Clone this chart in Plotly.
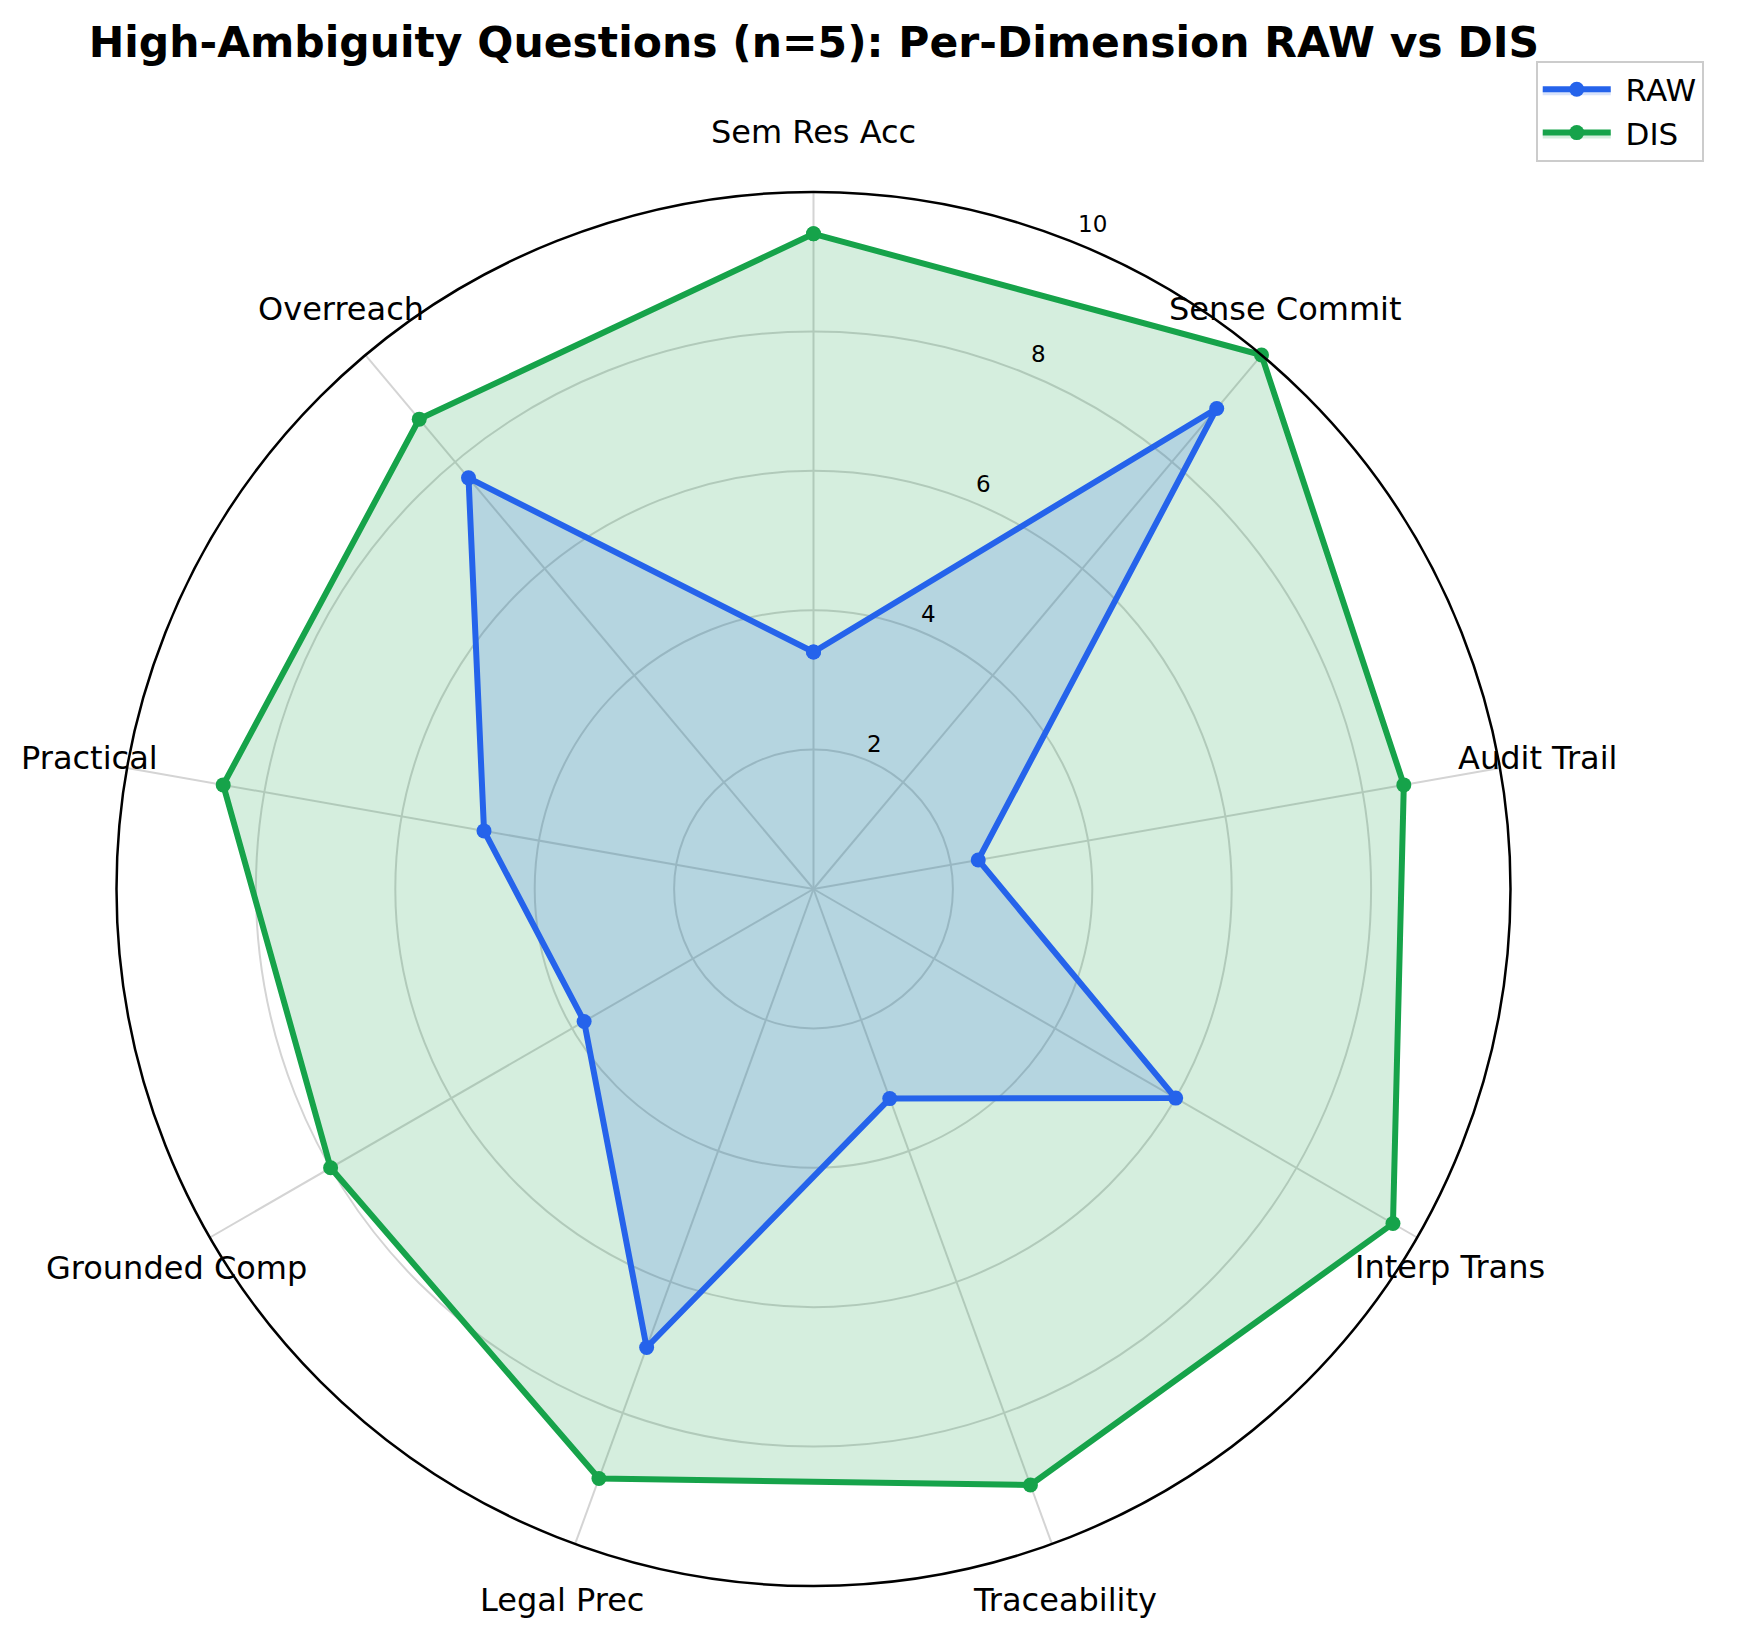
import math
import plotly.graph_objects as go

# per-dimension means for the high-ambiguity subset (n=5)
categories = ["Sem Res Acc", "Sense Commit", "Audit Trail", "Interp Trans", "Traceability",
              "Legal Prec", "Grounded Comp", "Practical", "Overreach"]
raw_scores = [3.4, 9.0, 2.4, 6.0, 3.2, 7.0, 3.8, 4.8, 7.7]
dis_scores = [9.4, 10.0, 8.6, 9.6, 9.1, 9.0, 8.0, 8.6, 8.8]
radial_ticks = [2, 4, 6, 8, 10]

RAW_COLOR = "#2563eb"
DIS_COLOR = "#16a34a"
FONT = "DejaVu Sans"

W, H = 1752, 1645
# polar centre / radius in px (page has an 8px body margin)
CX, CY, R = 805.5, 881.0, 697


def closed(values):
    # repeat first point so the polygon closes
    return list(values) + [values[0]]


fig = go.Figure()

fig.add_trace(go.Scatterpolar(
    r=closed(dis_scores),
    theta=closed(categories),
    name="\u00a0DIS",
    legendrank=2,
    mode="lines+markers",
    line=dict(color=DIS_COLOR, width=6),
    marker=dict(size=15, color=DIS_COLOR),
    fill="toself",
    fillcolor="rgba(22,163,74,0.18)",
))

fig.add_trace(go.Scatterpolar(
    r=closed(raw_scores),
    theta=closed(categories),
    name="\u00a0RAW",
    legendrank=1,
    mode="lines+markers",
    line=dict(color=RAW_COLOR, width=6),
    marker=dict(size=15, color=RAW_COLOR),
    fill="toself",
    fillcolor="rgba(37,99,235,0.18)",
))

# matplotlib-style labels: centred just outside the rim, allowed to overlap it
n = len(categories)
for i, cat in enumerate(categories):
    ang = 2 * math.pi * i / n
    fig.add_annotation(
        x=(CX + 735 * math.sin(ang)) / W,
        y=1 - (CY - 757 * math.cos(ang)) / H,
        xref="paper", yref="paper",
        text=cat, showarrow=False,
        xanchor="center", yanchor="middle",
        font=dict(size=32, family=FONT, color="black"),
    )

# radial tick labels along the 22.5 deg line
for v in radial_ticks:
    a = math.radians(23.5)
    fig.add_annotation(
        x=(CX + (v + 0.22) * 68.5 * math.sin(a)) / W,
        y=1 - (CY - (v + 0.22) * 71 * math.cos(a)) / H,
        xref="paper", yref="paper",
        text=str(v), showarrow=False,
        xanchor="center", yanchor="middle",
        font=dict(size=23, family=FONT, color="black"),
    )

fig.update_layout(
    width=W,
    height=H,
    margin=dict(l=0, r=0, t=0, b=0),
    paper_bgcolor="white",
    font=dict(family=FONT, color="black"),
    title=dict(
        text="High-Ambiguity Questions (n=5): Per-Dimension RAW vs DIS",
        font=dict(family=FONT, size=42.5, weight="bold", color="black"),
        x=0.46, xanchor="center",
        y=0.979, yanchor="middle", yref="container",
    ),
    polar=dict(
        domain=dict(x=[(CX - R) / W, (CX + R) / W],
                    y=[1 - (CY + R) / H, 1 - (CY - R) / H]),
        bgcolor="white",
        angularaxis=dict(
            rotation=90,
            direction="clockwise",
            categoryorder="array",
            categoryarray=categories,
            showticklabels=False,
            ticks="",
            showline=True,
            linecolor="black",
            linewidth=2.5,
            gridcolor="#d4d4d4",
            gridwidth=1.6,
        ),
        radialaxis=dict(
            range=[0, 10],
            tickvals=radial_ticks,
            showticklabels=False,
            showline=False,
            ticks="",
            gridcolor="#d4d4d4",
            gridwidth=1.6,
        ),
    ),
    legend=dict(
        x=0.872, y=0.968, xanchor="left", yanchor="top",
        font=dict(size=31, family=FONT),
        bgcolor="white",
        bordercolor="#cccccc",
        borderwidth=2,
        traceorder="normal",
        itemwidth=68,
    ),
)

fig.write_html("out.html")
